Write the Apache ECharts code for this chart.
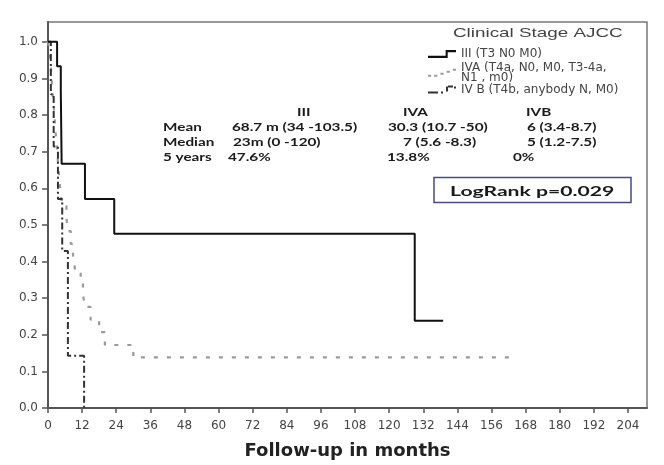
<!DOCTYPE html>
<html>
<head>
<meta charset="utf-8">
<script src="https://cdn.jsdelivr.net/npm/echarts@6/dist/echarts.min.js"></script>
<style>html,body{margin:0;padding:0;background:#fff;}#c{width:664px;height:465px;}</style>
</head>
<body>
<div id="c"></div>
<script>
// ---- data ----
const xTicks = [0,12,24,36,48,60,72,84,96,108,120,132,144,156,168,180,192,204];
const yTicks = [0,0.1,0.2,0.3,0.4,0.5,0.6,0.7,0.8,0.9,1.0];

const nameIII = 'III (T3 N0 M0)';
const nameIVA = 'IVA (T4a, N0, M0, T3-4a,\nN1 , m0)';
const nameIVB = 'IV B (T4b, anybody N, M0)';

const monthsIII = [0, 3.2, 4.5, 4.8, 13, 23.3, 129, 139];
const survIII   = [1, 0.933, 0.867, 0.667, 0.571, 0.476, 0.238, 0.238];

const monthsIVA = [0, 0.7, 1.0, 1.3, 1.6, 2.0, 2.3, 2.6, 3.0, 3.3, 3.7, 4.0, 4.5, 5.0, 6.5, 7.0, 8.0, 8.8, 9.5, 11.5, 12.3, 13.0, 15.0, 18.0, 20.0, 30.0, 165];
const survIVA   = [1, 0.966, 0.931, 0.897, 0.862, 0.828, 0.793, 0.759, 0.724, 0.690, 0.655, 0.621, 0.586, 0.552, 0.517, 0.483, 0.448, 0.414, 0.379, 0.345, 0.310, 0.276, 0.241, 0.207, 0.172, 0.138, 0.138];

const monthsIVB = [0, 1.0, 2.0, 3.5, 5.0, 7.0, 12.7];
const survIVB   = [1, 0.857, 0.714, 0.571, 0.429, 0.143, 0];

const tableHeader = ['III', 'IVA', 'IVB'];
const rowLabels = ['Mean', 'Median', '5 years'];
const colIII = ['68.7 m (34 -103.5)', '23m (0 -120)', '47.6%'];
const colIVA = ['30.3 (10.7 -50)', '7 (5.6 -8.3)', '13.8%'];
const colIVB = ['6 (3.4-8.7)', '5 (1.2-7.5)', '0%'];
const logRankText = 'LogRank p=0.029';
const legendTitle = 'Clinical Stage AJCC';
const xAxisTitle = 'Follow-up in months';

function pairs(xs, ys){ return xs.map((x,i)=>[x, ys[i]]); }

const chart = echarts.init(document.getElementById('c'), null, {renderer:'canvas'});

const SX = 1.33;
function txt(x, y, text, font, fill, sx){
  return {type:'text', x:x, y:y, scaleX: sx || SX, z:10,
    style:{text:text, font:font, fill:fill || '#1a1a1a', align:'left', verticalAlign:'middle'}};
}
const tFont = 'bold 11.5px Lato';
const graphics = [
  txt(453, 33, legendTitle, '13px "Liberation Sans"', '#444', 1.45),
  txt(297, 112, tableHeader[0], tFont),
  txt(403, 112, tableHeader[1], tFont),
  txt(526, 112, tableHeader[2], tFont),
  txt(163, 127, rowLabels[0], tFont),
  txt(163, 142.5, rowLabels[1], tFont),
  txt(163, 157, rowLabels[2], tFont),
  txt(232, 127, colIII[0], tFont),
  txt(233, 142.5, colIII[1], tFont),
  txt(228, 157, colIII[2], tFont),
  txt(388, 127, colIVA[0], tFont),
  txt(403, 142.5, colIVA[1], tFont),
  txt(387, 157, colIVA[2], tFont),
  txt(527, 127, colIVB[0], tFont),
  txt(527, 142.5, colIVB[1], tFont),
  txt(513, 157, colIVB[2], tFont),
  {type:'rect', shape:{x:434, y:177.5, width:197, height:25}, z:10,
    style:{fill:'#fff', stroke:'#4a4a85', lineWidth:1.5}},
  txt(450, 191.5, logRankText, 'bold 14px Lato', '#1a1a1a', 1.51)
];
graphics[graphics.length-1].z = 11;

function legendFor(name, top, icon){
  return {
    show:true, data:[{name:name, icon:icon}], orient:'vertical', left:428, top:top,
    itemWidth:28, itemHeight:8, itemGap:0, padding:0, symbolKeepAspect:false,
    itemStyle:{borderWidth:0},
    textStyle:{fontFamily:'DejaVu Sans', fontSize:12, color:'#444', lineHeight:9.5}
  };
}

const option = {
  animation:false,
  backgroundColor:'#fff',
  grid:{left:48, right:17, top:22, bottom:54, show:true, borderColor:'#777', borderWidth:1.5, containLabel:false},
  legend:[
    legendFor(nameIII, 48, 'path://M0,6L17,6L17,1L27,1L27,3L19,3L19,8L0,8Z'),
    legendFor(nameIVA, 62, 'path://M0,6h3v2h-3zM6,6h3v2h-3zM12,4h3v2h-3zM18,2h3v2h-3zM24,0h3v2h-3z'),
    legendFor(nameIVB, 83.5, 'path://M0,6h10v2h-10zM13,6h2v2h-2zM18,1h2v5h-2zM20,0h5v2h-5zM26,1h2v2h-2z')
  ],
  xAxis:{
    type:'value', min:0, max:210.7,
    name:xAxisTitle, nameLocation:'middle', nameGap:34,
    nameTextStyle:{fontFamily:'DejaVu Sans', fontWeight:'bold', fontSize:18, color:'#222'},
    axisLine:{show:true, onZero:false, lineStyle:{color:'#555', width:2}},
    axisTick:{show:true, customValues:xTicks, length:5, lineStyle:{color:'#555', width:1.5}},
    axisLabel:{customValues:xTicks, fontFamily:'DejaVu Sans', fontSize:12, color:'#444', margin:12},
    splitLine:{show:false}
  },
  yAxis:{
    type:'value', min:0, max:1.054,
    axisLine:{show:true, onZero:false, lineStyle:{color:'#555', width:2}},
    axisTick:{show:true, customValues:yTicks, length:6, lineStyle:{color:'#555', width:1.5}},
    axisLabel:{customValues:yTicks, fontFamily:'DejaVu Sans', fontSize:12, color:'#444', margin:10,
      formatter:(v)=>v.toFixed(1)},
    splitLine:{show:false}
  },
  series:[
    {name:nameIVA, type:'line', step:'end', data:pairs(monthsIVA, survIVA), showSymbol:false, symbol:'none',
      color:'#9a9a9a', lineStyle:{color:'#9a9a9a', width:2.2, type:[4,9]}, z:2},
    {name:nameIVB, type:'line', step:'end', data:pairs(monthsIVB, survIVB), showSymbol:false, symbol:'none',
      color:'#333', lineStyle:{color:'#333', width:2, type:[7,3,2,3]}, z:3},
    {name:nameIII, type:'line', step:'end', data:pairs(monthsIII, survIII), showSymbol:false, symbol:'none',
      color:'#111', lineStyle:{color:'#111', width:2}, z:4}
  ],
  graphic:graphics
};
chart.setOption(option);
</script>
</body>
</html>
